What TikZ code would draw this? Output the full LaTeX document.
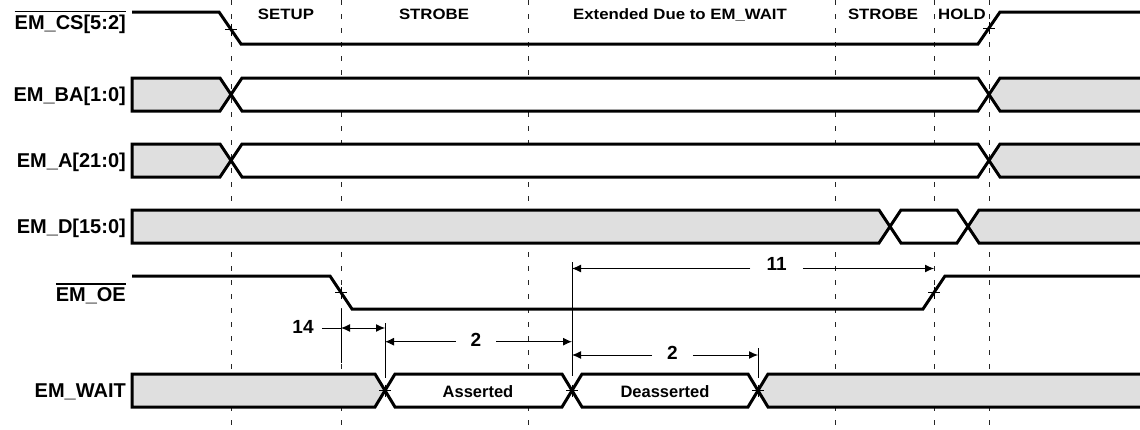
\documentclass[tikz,border=0pt]{standalone}
\usepackage{fontspec}
\setmainfont{Liberation Sans}
\newfontfamily\phasefont[FakeStretch=1.12]{Liberation Sans}
\usetikzlibrary{arrows.meta}
\definecolor{busgray}{RGB}{223,223,223}
\newcommand\barsig[1]{\vbox{\hrule height 1.3pt\kern 2.5pt\hbox{#1}}}

\begin{document}
\begin{tikzpicture}
  [x=1pt,y=-1pt,
   sig/.style={line width=3pt},
   bus/.style={line width=3pt,fill=busgray},
   busw/.style={line width=3pt,fill=white},
   guide/.style={line width=1pt,black!85,dash pattern=on 5pt off 9pt},
   thinline/.style={line width=0.9pt},
   dimtip/.style={line width=1pt,-{Latex[length=9pt,width=8pt]}},
   dimboth/.style={line width=1pt,{Latex[length=9pt,width=8pt]}-{Latex[length=9pt,width=8pt]}},
   signame/.style={font=\bfseries\fontsize{20}{24}\selectfont,anchor=base east,inner sep=0pt},
   phase/.style={font=\phasefont\bfseries\fontsize{15}{17}\selectfont,anchor=base,inner sep=0pt},
   state/.style={font=\bfseries\fontsize{16.5}{20}\selectfont,anchor=base,inner sep=0pt},
   num/.style={font=\bfseries\fontsize{19}{22}\selectfont,anchor=base,inner xsep=15pt,inner ysep=0pt}]
  \useasboundingbox (0,0) rectangle (1140,429);
  \clip (0,0) rectangle (1140,429);

  % guide lines
  \foreach \gx in {231,341,528,835,934,989}
    \draw[guide] (\gx,0) -- (\gx,429);

  % phases
  \node[phase] (setup) at (286,19.5) {SETUP};
  \node[phase] (strobea) at (434,19.5) {STROBE};
  \node[phase] (extend) at (680,19.5) {Extended Due to EM\_WAIT};
  \node[phase] (strobeb) at (883,19.5) {STROBE};
  \node[phase] (hold) at (962,19.5) {HOLD};

  % signal names
  \node[signame] (cs) at (126,29) {\barsig{EM\_CS[5:2]}};
  \node[signame] (ba) at (126,101.5) {EM\_BA[1:0]};
  \node[signame] (addr) at (126,167.5) {EM\_A[21:0]};
  \node[signame] (data) at (126,233.5) {EM\_D[15:0]};
  \node[signame] (oe) at (126,301) {\barsig{EM\_OE}};
  \node[signame] (wait) at (126,397.5) {EM\_WAIT};

  % EM_CS
  \draw[sig] (132,12) -- (219,12) -- (241,44) -- (978,44) -- (1000,12) -- (1145,12);

  % EM_BA, EM_A
  \foreach \yt/\ym/\yb in {78/94.5/111,144/160.5/177} {
    \draw[bus] (132,\yt) -- (220,\yt) -- (231,\ym) -- (220,\yb) -- (132,\yb) -- cycle;
    \draw[busw] (231,\ym) -- (242,\yt) -- (978,\yt) -- (989,\ym) -- (978,\yb) -- (242,\yb) -- cycle;
    \draw[bus] (989,\ym) -- (1000,\yt) -- (1150,\yt) -- (1150,\yb) -- (1000,\yb) -- cycle;
  }

  % EM_D
  \draw[bus] (132,210) -- (879,210) -- (890,226.5) -- (879,243) -- (132,243) -- cycle;
  \draw[busw] (890,226.5) -- (901,210) -- (957,210) -- (968,226.5) -- (957,243) -- (901,243) -- cycle;
  \draw[bus] (968,226.5) -- (979,210) -- (1150,210) -- (1150,243) -- (979,243) -- cycle;

  % EM_OE
  \draw[sig] (132,276) -- (330,276) -- (352,309) -- (923,309) -- (945,276) -- (1145,276);

  % EM_WAIT
  \draw[bus] (132,374) -- (375,374) -- (385,390.5) -- (375,407) -- (132,407) -- cycle;
  \draw[busw] (385,390.5) -- (395,374) -- (562,374) -- (572,390.5) -- (562,407) -- (395,407) -- cycle;
  \draw[busw] (572,390.5) -- (582,374) -- (748,374) -- (758,390.5) -- (748,407) -- (582,407) -- cycle;
  \draw[bus] (758,390.5) -- (768,374) -- (1150,374) -- (1150,407) -- (768,407) -- cycle;
  \node[state] (asserted) at (478,397.3) {Asserted};
  \node[state] (deasserted) at (665,397.3) {Deasserted};

  % ticks on edges
  \foreach \tx/\ty in {231/29.5,989/28,341/292.5,934/292.5,385/390.5,572/390.5,758/390.5}
    \draw[thinline] (\tx-6,\ty) -- (\tx+6,\ty) (\tx,\ty-6) -- (\tx,\ty+6);

  % timing marks
  \coordinate (t14l) at (341,328);
  \coordinate (t14r) at (385,328);
  \coordinate (t2al) at (385,341.7);
  \coordinate (t2ar) at (572,341.7);
  \coordinate (t2bl) at (572,355);
  \coordinate (t2br) at (758,355);
  \coordinate (t11l) at (572,268.5);
  \coordinate (t11r) at (934,268.5);

  \draw[thinline] (341,309) -- (341,363);
  \draw[thinline] (385,323) -- (385,378);
  \draw[thinline] (572,262) -- (572,376);
  \draw[thinline] (758,348) -- (758,378);

  \node[num,inner xsep=8pt] (n14) at (303,333) {14};
  \draw[line width=1pt] (n14.east |- t14l) -- (t14l);
  \draw[dimboth] (t14l) -- (t14r);

  \node[num] (n2a) at (476,346) {2};
  \draw[dimtip] (n2a.west |- t2al) -- (t2al);
  \draw[dimtip] (n2a.east |- t2ar) -- (t2ar);

  \node[num] (n2b) at (672.5,359.5) {2};
  \draw[dimtip] (n2b.west |- t2bl) -- (t2bl);
  \draw[dimtip] (n2b.east |- t2br) -- (t2br);

  \node[num,inner xsep=16pt] (n11) at (776.7,270.5) {11};
  \draw[dimtip] (n11.west |- t11l) -- (t11l);
  \draw[dimtip] (n11.east |- t11r) -- (t11r);
\end{tikzpicture}
\end{document}
